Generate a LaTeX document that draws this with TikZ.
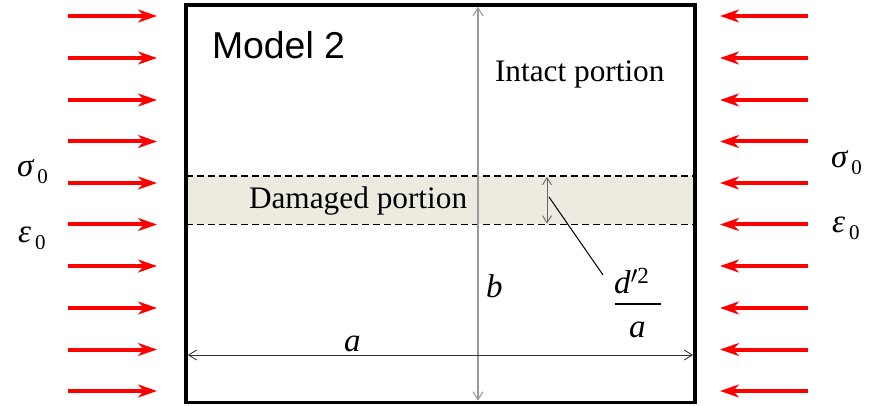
\documentclass[tikz,border=0pt]{standalone}
\usepackage{amsmath}
\usepackage{fontspec}
\setmainfont{Liberation Serif}
\newfontfamily\arialfont{Liberation Sans}
\usetikzlibrary{arrows.meta}
\definecolor{bandfill}{HTML}{EDEBE0}
\definecolor{dimgray}{HTML}{9A9A9A}
\tikzset{
  load/.style={draw=red, line width=4pt, -{Stealth[length=19pt,width=13pt,inset=6pt]}},
  dimline/.style={line width=0.9pt, {Straight Barb[length=8pt,width=10pt]}-{Straight Barb[length=8pt,width=10pt]}},
  txt/.style={inner sep=0pt, outer sep=0pt, anchor=base west},
  bigtxt/.style={txt, font=\fontsize{31.3}{36}\selectfont},
  mathtxt/.style={txt, font=\fontsize{33}{40}\selectfont},
  bandline/.style={line width=1.2pt, dash pattern=on 7pt off 4pt},
}
\newcommand{\subz}{\raisebox{-6.5pt}{\fontsize{21}{21}\selectfont 0}}
\begin{document}
\begin{tikzpicture}[x=1pt,y=-1pt]
\useasboundingbox (0,0) rectangle (870,406);
% damaged band
\coordinate (bandTL) at (186,176);
\coordinate (bandTR) at (695,176);
\coordinate (bandBL) at (186,224.3);
\coordinate (bandBR) at (695,224.3);
\fill[bandfill] (bandTL) rectangle (bandBR);
\draw[bandline] (bandTL) -- (bandTR);
\draw[bandline] (bandBL) -- (bandBR);
% main box
\node[draw, line width=3.5pt, minimum width=509pt, minimum height=397.5pt,
      inner sep=0pt, outer sep=0pt, anchor=north west] (box) at (186,5) {};
% loads
\foreach \i/\y in {1/16,2/58,3/100,4/141.5,5/183,6/224.5,7/266,8/308,9/349.5,10/391}{
  \coordinate (ls\i) at (68,\y);
  \coordinate (le\i) at (157,\y);
  \coordinate (rs\i) at (808,\y);
  \coordinate (re\i) at (720,\y);
  \draw[load] (ls\i) -- (le\i);
  \draw[load] (rs\i) -- (re\i);
}
% dimension b
\coordinate (btop) at (478,6.8);
\coordinate (bbot) at (478,400.7);
\draw[dimline, draw=dimgray, line width=1.1pt] (btop) -- (bbot);
% dimension a
\coordinate (aleft) at (187.8,355);
\coordinate (aright) at (693,355);
\draw[dimline, draw=black!80] (aleft) -- (aright);
% dimension d
\coordinate (dtop) at (547,177);
\coordinate (dbot) at (547,223.5);
\draw[dimline, draw=black!60, {Straight Barb[length=7pt,width=9pt]}-{Straight Barb[length=7pt,width=9pt]}] (dtop) -- (dbot);
% leader
\coordinate (ldA) at (549,197);
\coordinate (ldB) at (603,275);
\draw[line width=1pt] (ldA) -- (ldB);
% texts
\node[txt, font=\arialfont\fontsize{37.4}{42}\selectfont] (model) at (212,59) {Model 2};
\node[bigtxt] (intact) at (495,82) {Intact portion};
\node[bigtxt] (damaged) at (249,208) {Damaged portion};
\node[mathtxt] (sigL) at (17,177) {\textit{σ}\kern3pt\subz};
\node[mathtxt] (epsL) at (18,243) {\textit{ε}\kern4pt\subz};
\node[mathtxt] (sigR) at (831,168) {\textit{σ}\kern3pt\subz};
\node[mathtxt] (epsR) at (832,233) {\textit{ε}\kern4pt\subz};
\node[mathtxt] (blab) at (486,297) {\textit{b}};
\node[mathtxt] (alab) at (344,351) {\textit{a}};
% fraction d'^2 / a
\node[mathtxt] (num) at (614,293) {\textit{d}$'^{\text{2}}$};
\node[mathtxt] (den) at (629,337) {\textit{a}};
\coordinate (barL) at (615,304);
\coordinate (barR) at (661,304);
\draw[line width=1.3pt] (barL) -- (barR);
\end{tikzpicture}
\end{document}
